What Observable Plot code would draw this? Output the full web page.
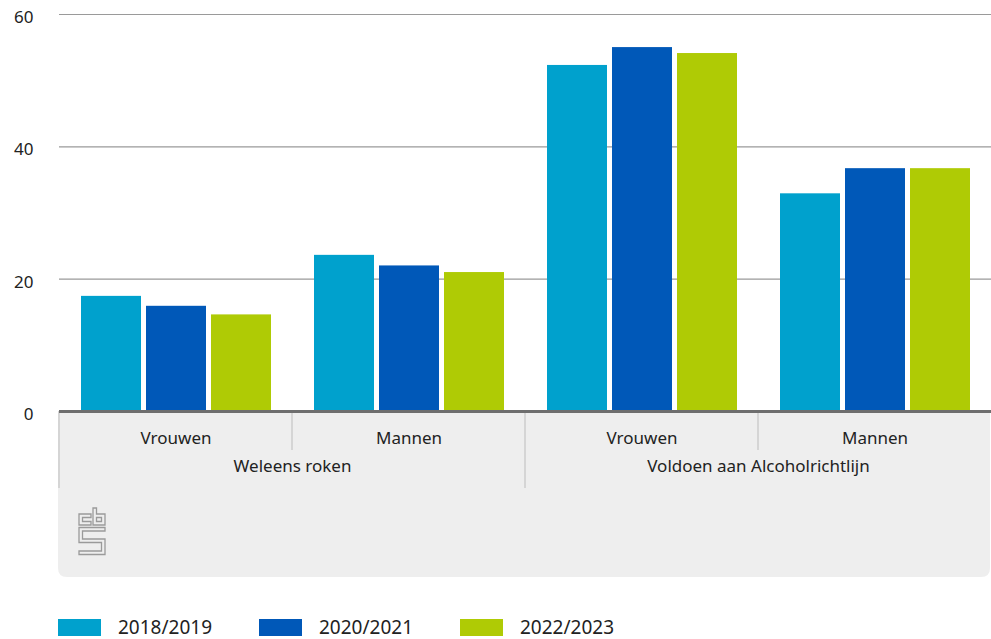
<!DOCTYPE html>
<html><head><meta charset="utf-8">
<script src="https://cdn.jsdelivr.net/npm/d3@7"></script>
<script src="https://cdn.jsdelivr.net/npm/@observablehq/plot@0.6"></script>
<style>
body{margin:0;background:#fff;font-family:"Noto Sans",sans-serif;}
#legend{display:flex;margin-top:29px;margin-left:58px;height:17px;align-items:center;}
.item{display:flex;align-items:center;width:201px;}
.sw{width:43px;height:17px;margin-right:17px;}
.lt{font-size:19px;color:#222;line-height:17px;}
</style></head><body><div id="chart"></div><div id="legend"></div><script>
const groups = ["Weleens roken", "Voldoen aan Alcoholrichtlijn"];
const sexes = ["Vrouwen", "Mannen"];
const years = ["2018/2019", "2020/2021", "2022/2023"];
const colors = ["#00a1cd", "#0058b8", "#afcb05"];
const smokeWomen = [17.4, 15.9, 14.6];
const smokeMen = [23.6, 22.0, 21.0];
const alcWomen = [52.3, 55.0, 54.1];
const alcMen = [32.9, 36.7, 36.7];
const yTicks = [0, 20, 40, 60];

const series = [[smokeWomen, smokeMen], [alcWomen, alcMen]];
const keys = [];
const data = [];
groups.forEach((g, gi) => sexes.forEach((s, si) => {
  const key = g + "|" + s;
  keys.push(key);
  years.forEach((y, yi) => data.push({key, year: y, value: series[gi][si][yi]}));
}));
const groupLabels = groups.map(g => ({key: g + "|" + sexes[0], label: g}));

const W = 991, H = 590, ML = 58, MT = 14, MB = 179;
const plot = Plot.plot({
  width: W, height: H, marginLeft: ML, marginRight: 0, marginTop: MT, marginBottom: MB,
  style: {fontFamily: '"Noto Sans", sans-serif', fontSize: "17px", color: "#222", background: "transparent"},
  fx: {domain: keys, padding: 0},
  x: {domain: years, paddingInner: 0.08, paddingOuter: 0.325, axis: null},
  y: {domain: [0, 60]},
  color: {domain: years, range: colors},
  marks: [
    Plot.gridY(yTicks, {stroke: "#9a9a9a", strokeOpacity: 1, strokeWidth: 1.2}),
    Plot.axisY(yTicks, {tickSize: 0, tickPadding: 26, dy: 3, fontSize: 17, label: null}),
    Plot.barY(data, {fx: "key", x: "year", y: "value", fill: "year"}),
    Plot.ruleY([0], {stroke: "#6e6e6e", strokeWidth: 3}),
    Plot.axisFx({anchor: "bottom", tickSize: 0, tickPadding: 20, fontSize: 17, label: null, tickFormat: d => d.split("|")[1]}),
    Plot.text(groupLabels, {fx: "key", text: "label", frameAnchor: "bottom-right", textAnchor: "middle", dy: 60, fontSize: 17, fill: "#222"})
  ]
});
document.getElementById("chart").append(plot);

// grey panel behind the category axis
const fxScale = plot.scale("fx");
const svgSel = d3.select(plot);
const bg = svgSel.insert("g", ":first-child");
const panelTop = H - MB, panelBottom = 577, rad = 9;
bg.append("path")
  .attr("d", `M${ML},${panelTop} H${W - 1} V${panelBottom - rad} Q${W - 1},${panelBottom} ${W - 1 - rad},${panelBottom} H${ML + rad} Q${ML},${panelBottom} ${ML},${panelBottom - rad} Z`)
  .attr("fill", "#eeeeee");
const sepColor = "#cccccc";
keys.forEach((k, i) => {
  const xx = fxScale.apply(k);
  const isLong = i % 2 === 0;
  bg.append("line").attr("x1", xx).attr("x2", xx).attr("y1", panelTop).attr("y2", isLong ? 488 : 450)
    .attr("stroke", sepColor).attr("stroke-width", 1.5);
});
// cbs logo (decorative)
const logo = bg.append("g").attr("transform", "translate(79,508)")
  .attr("fill", "none").attr("stroke", "#9a9a9a").attr("stroke-width", 1.3);
logo.append("path").attr("d", "M0,6 H12 V9.5 H3.5 V13.5 H12 V17 H0 Z");
logo.append("path").attr("d", "M14,0 H17.5 V6 H26 V17 H14 Z M17.5,9.5 H22.5 V13.5 H17.5 Z");
logo.append("path").attr("d", "M0,19.5 H26 V23 H3.5 V31 H26 V46.5 H0 V43 H22.5 V34.5 H0 Z");

// legend
const lg = d3.select("#legend");
years.forEach((y, i) => {
  const it = lg.append("div").attr("class", "item");
  it.append("div").attr("class", "sw").style("background", colors[i]);
  it.append("div").attr("class", "lt").text(y);
});
</script></body></html>
